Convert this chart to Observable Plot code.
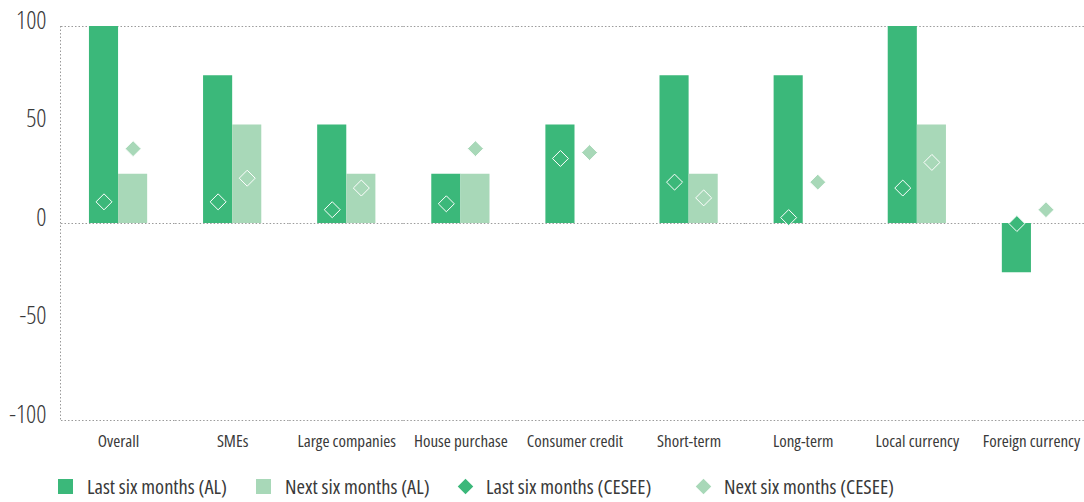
<!DOCTYPE html>
<html>
<head>
<meta charset="utf-8">
<script src="https://cdn.jsdelivr.net/npm/d3@7"></script>
<script src="https://cdn.jsdelivr.net/npm/@observablehq/plot@0.6"></script>
<style>
  html, body { margin: 0; padding: 0; background: #fff; }
  body { width: 1084px; height: 502px; overflow: hidden; font-family: "Open Sans", sans-serif; font-stretch: 75%; }
  svg text { font-stretch: 75%; }
  #legend { position: relative; height: 40px; width: 1084px; font-size: 20.5px; color: #3a3a3a; }
  .item { position: absolute; top: 4px; height: 40px; display: flex; align-items: center; }
  .sw { width: 15px; height: 15px; margin-right: 14px; flex: none; }
  .dm { width: 11px; height: 11px; transform: rotate(45deg); margin: 0 15px 0 2px; flex: none; }
</style>
</head>
<body>
<div id="chart"></div>
<div id="legend"></div>
<script>
const categories = ["Overall", "SMEs", "Large companies", "House purchase", "Consumer credit", "Short-term", "Long-term", "Local currency", "Foreign currency"];
const lastAL = [100, 75, 50, 25, 50, 75, 75, 100, -25];
const nextAL = [25, 50, 25, 25, 0, 25, 0, 50, 0];
const lastCESEE = [11, 11, 7, 10, 33, 21, 3, 18, 0];
const nextCESEE = [38, 23, 18, 38, 36, 13, 21, 31, 7];
const yTicks = [-100, -50, 0, 50, 100];
const seriesLabels = ["Last six months (AL)", "Next six months (AL)", "Last six months (CESEE)", "Next six months (CESEE)"];

const darkGreen = "#3bb87a";
const lightGreen = "#a8d8b8";

const bars = [];
const dots = [];
categories.forEach((c, i) => {
  bars.push({category: c, period: "last", value: lastAL[i]});
  bars.push({category: c, period: "next", value: nextAL[i]});
  dots.push({category: c, period: "last", value: lastCESEE[i]});
  dots.push({category: c, period: "next", value: nextCESEE[i]});
});

const W = 1084, H = 462, ML = 60, MT = 26, MB = 42;

const chart = Plot.plot({
  width: W,
  height: H,
  marginLeft: ML,
  marginRight: 0,
  marginTop: MT,
  marginBottom: MB,
  style: {fontFamily: '"Open Sans", sans-serif', color: "#3a3a3a", background: "#fff"},
  fx: {domain: categories, padding: 0, round: false, range: [61, 1088], label: null},
  x: {domain: ["last", "next"], paddingInner: 0, paddingOuter: 0.96, round: false, axis: null},
  y: {domain: [-100, 100], label: null},
  color: {domain: ["last", "next"], range: [darkGreen, lightGreen]},
  marks: [
    Plot.ruleY([-100, 0, 100], {stroke: "#9a9a9a", strokeWidth: 1, strokeDasharray: "1.5,2"}),
    Plot.barY(bars, {fx: "category", x: "period", y: "value", fill: "period"}),
    Plot.dot(dots, {fx: "category", x: "period", y: "value", fill: "period", stroke: "#fff", strokeWidth: 1, symbol: "diamond2", r: 7.2}),
    Plot.axisY(yTicks, {anchor: "left", tickSize: 0, tickPadding: 15, fontSize: 25, fontWeight: 300, dy: -6, tickFormat: d => String(d), label: null}),
    Plot.axisFx({anchor: "bottom", tickSize: 0, tickPadding: 14, fontSize: 17, label: null})
  ]
});
document.getElementById("chart").appendChild(chart);

// left dotted frame edge
d3.select(chart).append("line")
  .attr("x1", ML + 0.5).attr("x2", ML + 0.5)
  .attr("y1", MT).attr("y2", H - MB)
  .attr("stroke", "#9a9a9a").attr("stroke-dasharray", "1.5,2");

// legend
const legendItems = [
  {label: seriesLabels[0], color: darkGreen, shape: "sw", left: 58},
  {label: seriesLabels[1], color: lightGreen, shape: "sw", left: 256},
  {label: seriesLabels[2], color: darkGreen, shape: "dm", left: 458},
  {label: seriesLabels[3], color: lightGreen, shape: "dm", left: 696}
];
const legend = d3.select("#legend");
legendItems.forEach(it => {
  const d = legend.append("div").attr("class", "item").style("left", it.left + "px");
  d.append("div").attr("class", it.shape).style("background", it.color);
  d.append("span").text(it.label);
});
</script>
</body>
</html>
